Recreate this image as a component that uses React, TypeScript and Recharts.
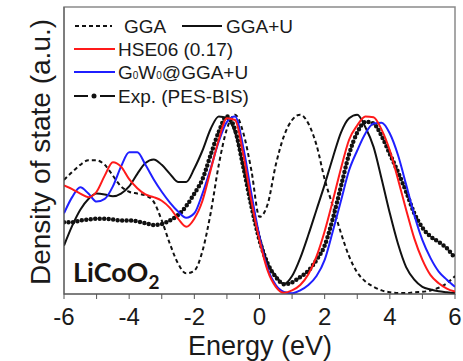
import React from 'react';
import { LineChart, Line, XAxis, YAxis, ReferenceArea } from 'recharts';

const energy = [
  -6, -5.75, -5.5, -5.25, -5, -4.75, -4.5, -4.25, -4, -3.75, -3.5, -3.25, -3, -2.75, -2.5, -2.25,
  -2, -1.75, -1.5, -1.25, -1, -0.75, -0.5, -0.25, 0, 0.25, 0.5, 0.75, 1, 1.25, 1.5, 1.75,
  2, 2.25, 2.5, 2.75, 3, 3.25, 3.5, 3.75, 4, 4.25, 4.5, 4.75, 5, 5.25, 5.5, 5.75, 6,
];

const gga = [
  0.636, 0.68, 0.72, 0.745, 0.745, 0.72, 0.66, 0.6, 0.57, 0.56, 0.55, 0.515, 0.41, 0.28, 0.17, 0.115,
  0.13, 0.24, 0.45, 0.72, 0.92, 1.0, 0.9, 0.69, 0.43, 0.5, 0.72, 0.88, 0.97, 1.0, 0.95, 0.83,
  0.64, 0.49, 0.34, 0.21, 0.12, 0.07, 0.04, 0.02, 0.01, 0.005, 0.005, 0.01, 0.012, 0.02, 0.035, 0.06, 0.1,
];

const ggaU = [
  0.27, 0.38, 0.47, 0.53, 0.56, 0.555, 0.545, 0.56, 0.6, 0.67, 0.73, 0.75, 0.72, 0.67, 0.625, 0.625,
  0.7, 0.8, 0.92, 0.99, 0.98, 0.9, 0.71, 0.51, 0.32, 0.17, 0.1, 0.056, 0.1, 0.2, 0.33, 0.47,
  0.61, 0.76, 0.9, 0.98, 1.0, 0.93, 0.82, 0.64, 0.45, 0.28, 0.15, 0.08, 0.04, 0.025, 0.015, 0.01, 0.005,
];

const hse = [
  0.605, 0.585, 0.56, 0.54, 0.57, 0.66, 0.735, 0.71, 0.64, 0.59, 0.555, 0.54, 0.52, 0.48, 0.42, 0.375,
  0.42, 0.52, 0.69, 0.86, 0.98, 0.97, 0.78, 0.52, 0.3, 0.13, 0.04, 0.007, 0.02, 0.05, 0.11, 0.21,
  0.35, 0.52, 0.7, 0.86, 0.94, 0.99, 0.985, 0.915, 0.8, 0.64, 0.47, 0.31, 0.19, 0.105, 0.06, 0.03, 0.013,
];

const g0w0 = [
  0.45, 0.54, 0.595, 0.56, 0.515, 0.53, 0.6, 0.71, 0.79, 0.79, 0.72, 0.64, 0.57, 0.51, 0.46, 0.425,
  0.45, 0.56, 0.7, 0.85, 0.96, 0.99, 0.82, 0.56, 0.32, 0.14, 0.05, 0.012, 0.004, 0.02, 0.05, 0.1,
  0.19, 0.35, 0.52, 0.69, 0.8, 0.895, 0.95, 0.955, 0.895, 0.775, 0.61, 0.44, 0.3, 0.2, 0.125, 0.08, 0.04,
];

const expPes = [
  0.4, 0.4, 0.41, 0.415, 0.42, 0.42, 0.415, 0.41, 0.41, 0.405, 0.395, 0.385, 0.39, 0.41, 0.44, 0.49,
  0.56, 0.64, 0.775, 0.905, 0.99, 0.915, 0.71, 0.49, 0.3, 0.17, 0.095, 0.055, 0.065, 0.095, 0.13, 0.19,
  0.27, 0.42, 0.6, 0.78, 0.9, 0.96, 0.95, 0.88, 0.78, 0.68, 0.57, 0.45, 0.37, 0.32, 0.29, 0.255, 0.2,
];

const xTicks = [-6, -5, -4, -3, -2, -1, 0, 1, 2, 3, 4, 5, 6];
const labeledTicks = [-6, -4, -2, 0, 2, 4, 6];

const rows = energy.map((e, i) => ({
  e,
  gga: gga[i],
  ggaU: ggaU[i],
  hse: hse[i],
  g0w0: g0w0[i],
  exp: expPes[i],
}));

const SANS = '"Liberation Sans", Arial, sans-serif';

export default function App() {
  return (
    <div style={{ position: 'absolute', left: 0, top: 0, width: 463, height: 361, background: '#fff' }}>
      <LineChart width={463} height={361} data={rows} margin={{ top: 7, right: 8, bottom: 0, left: 0 }}>
        <ReferenceArea x1={-6} x2={6} y1={0} y2={1.6} fill="none" stroke="#8a8a8a" strokeWidth={1.5} ifOverflow="visible" />
        <XAxis
          dataKey="e"
          type="number"
          domain={[-6, 6]}
          ticks={xTicks}
          interval={0}
          allowDataOverflow
          tickFormatter={(v: number) => (labeledTicks.includes(v) ? String(v) : '')}
          tickSize={5}
          tickMargin={9}
          height={67}
          stroke="#555"
          tick={{ fontSize: 24, fill: '#1a1a1a', fontFamily: SANS }}
        />
        <YAxis type="number" domain={[0, 1.6]} allowDataOverflow tick={false} tickLine={false} width={64} stroke="#555" />
        <Line type="monotone" dataKey="exp" stroke="#111" strokeWidth={4.5} strokeDasharray="0 4.5" strokeLinecap="round" dot={false} isAnimationActive={false} />
        <Line type="monotone" dataKey="gga" stroke="#111" strokeWidth={2} strokeDasharray="4 3" dot={false} isAnimationActive={false} />
        <Line type="monotone" dataKey="ggaU" stroke="#111" strokeWidth={2} dot={false} isAnimationActive={false} />
        <Line type="monotone" dataKey="g0w0" stroke="#1f1fff" strokeWidth={2} dot={false} isAnimationActive={false} />
        <Line type="monotone" dataKey="hse" stroke="#ff1a1a" strokeWidth={2} dot={false} isAnimationActive={false} />
      </LineChart>
      <svg width={463} height={361} style={{ position: 'absolute', left: 0, top: 0, pointerEvents: 'none' }}>
        <g fontFamily={SANS} fontSize={19} fill="#1a1a1a">
          <line x1={75} x2={112} y1={26} y2={26} stroke="#111" strokeWidth={2} strokeDasharray="4 3" />
          <text x={124} y={26} dominantBaseline="central">GGA</text>
          <line x1={182} x2={222} y1={26} y2={26} stroke="#111" strokeWidth={2} />
          <text x={226} y={26} dominantBaseline="central">GGA+U</text>
          <line x1={74} x2={115} y1={49} y2={49} stroke="#ff1a1a" strokeWidth={2} />
          <text x={118} y={49} dominantBaseline="central">HSE06 (0.17)</text>
          <line x1={74} x2={115} y1={72} y2={72} stroke="#1f1fff" strokeWidth={2} />
          <text x={118} y={72} dominantBaseline="central">
            G<tspan fontSize={10} dy={3}>0</tspan>
            <tspan dy={-3}>W</tspan>
            <tspan fontSize={10} dy={3}>0</tspan>
            <tspan dy={-3}>@GGA+U</tspan>
          </text>
          <line x1={74} x2={88} y1={96} y2={96} stroke="#111" strokeWidth={2} />
          <circle cx={94} cy={96} r={2.5} fill="#111" />
          <line x1={100} x2={115} y1={96} y2={96} stroke="#111" strokeWidth={2} />
          <text x={118} y={96} dominantBaseline="central">Exp. (PES-BIS)</text>
        </g>
        <text x={73} y={282} fontFamily="Lato, sans-serif" fontWeight={700} fontSize={27} fill="#1a1410">
          LiCoO<tspan fontSize={19} dy={7}>2</tspan>
        </text>
        <text x={260} y={355} textAnchor="middle" fontFamily={SANS} fontSize={27} fill="#1a1a1a">Energy (eV)</text>
        <text transform="translate(50,152) rotate(-90)" x={0} y={0} textAnchor="middle" fontFamily={SANS} fontSize={28} fill="#1a1a1a">
          Density of state (a.u.)
        </text>
      </svg>
    </div>
  );
}
